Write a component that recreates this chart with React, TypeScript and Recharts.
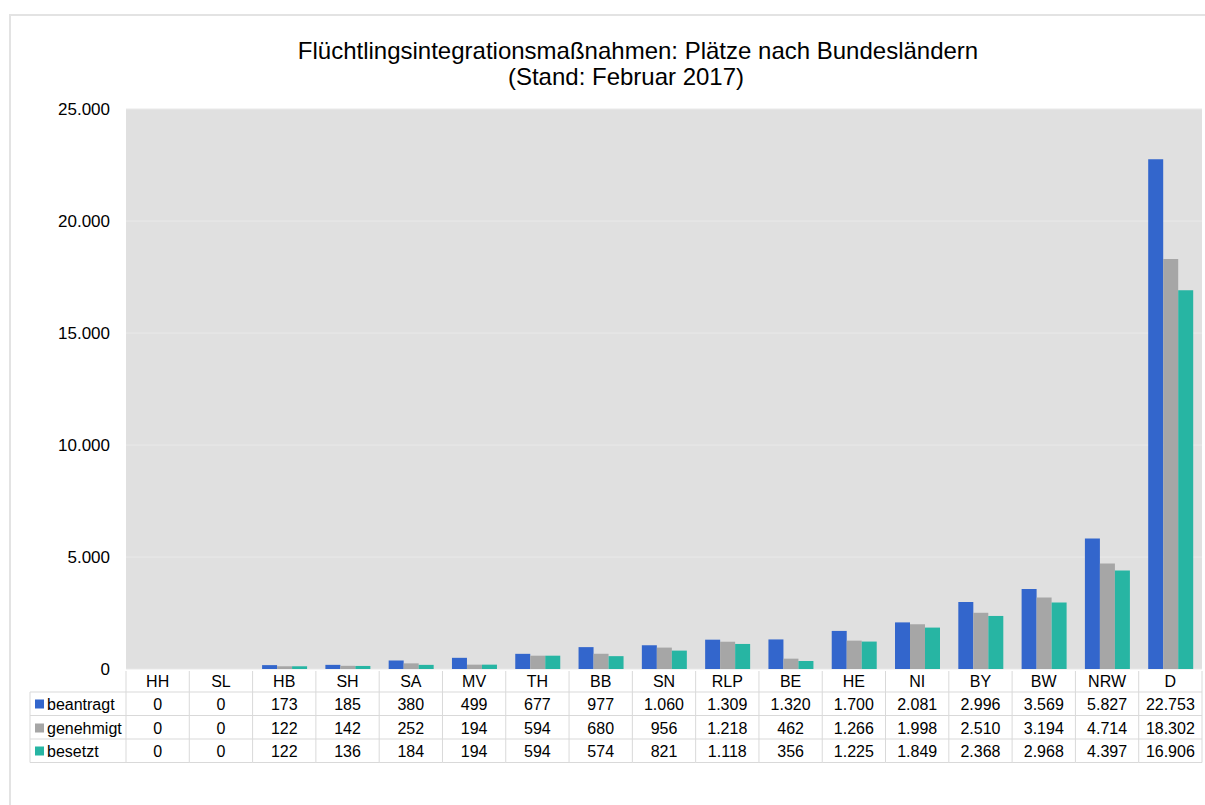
import { BarChart, Bar, XAxis, YAxis, CartesianGrid } from 'recharts';

// Bundesländer, sortiert wie in der Vorlage
const laender = ['HH', 'SL', 'HB', 'SH', 'SA', 'MV', 'TH', 'BB', 'SN', 'RLP', 'BE', 'HE', 'NI', 'BY', 'BW', 'NRW', 'D'];
const beantragt = [0, 0, 173, 185, 380, 499, 677, 977, 1060, 1309, 1320, 1700, 2081, 2996, 3569, 5827, 22753];
const genehmigt = [0, 0, 122, 142, 252, 194, 594, 680, 956, 1218, 462, 1266, 1998, 2510, 3194, 4714, 18302];
const besetzt = [0, 0, 122, 136, 184, 194, 594, 574, 821, 1118, 356, 1225, 1849, 2368, 2968, 4397, 16906];
const yTicks = [0, 5000, 10000, 15000, 20000, 25000];

const series = [
  { key: 'beantragt', values: beantragt, color: '#3366cc' },
  { key: 'genehmigt', values: genehmigt, color: '#a6a6a6' },
  { key: 'besetzt', values: besetzt, color: '#27b5a3' },
];

const data = laender.map((land, i) => ({
  land,
  beantragt: beantragt[i],
  genehmigt: genehmigt[i],
  besetzt: besetzt[i],
}));

const CHART_W = 1195;
const CHART_H = 762;
const Y_W = 118;
const PLOT_W = CHART_W - Y_W - 1;
const COL_W = PLOT_W / laender.length;
const LINE = '#d9d9d9';
const FONT = '"Liberation Sans", Arial, sans-serif';

const fmt = (v: number) => String(v).replace(/\B(?=(\d{3})+(?!\d))/g, '.');

// row centers and bottom lines, relative to the plot bottom
const rowCenters = [35, 59, 82];
const rowLines = [23, 46.5, 70, 93.5];

const TableTick = (props: any) => {
  const { x, y, payload } = props;
  const i = payload.index ?? props.index;
  const left = x - COL_W / 2;
  const right = x + COL_W / 2;
  const last = i === laender.length - 1;
  return (
    <g fontFamily={FONT}>
      <text x={x} y={y + 17.5} textAnchor="middle" fontSize={16} fill="#000">
        {payload.value}
      </text>
      {series.map((s, r) => (
        <text key={s.key} x={x} y={y + rowCenters[r] + 5.5} textAnchor="middle" fontSize={16} fill="#000">
          {fmt(s.values[i])}
        </text>
      ))}
      {rowLines.map((ly) => (
        <line key={ly} x1={left} x2={right} y1={y + ly} y2={y + ly} stroke={LINE} />
      ))}
      <line x1={left} x2={left} y1={y + 2} y2={y + 93.5} stroke={LINE} />
      {last && <line x1={right} x2={right} y1={y + 2} y2={y + 93.5} stroke={LINE} />}
      {i === 0 && (
        <g>
          {rowLines.map((ly) => (
            <line key={'l' + ly} x1={left - 96} x2={left} y1={y + ly} y2={y + ly} stroke={LINE} />
          ))}
          <line x1={left - 96} x2={left - 96} y1={y + 23} y2={y + 93.5} stroke={LINE} />
          {series.map((s, r) => (
            <g key={'lg' + s.key}>
              <rect x={left - 91} y={y + rowCenters[r] - 4.5} width={9} height={9} fill={s.color} />
              <text x={left - 79} y={y + rowCenters[r] + 5.5} fontSize={16} fill="#000">
                {s.key}
              </text>
            </g>
          ))}
        </g>
      )}
    </g>
  );
};

export default function App() {
  return (
    <div style={{ position: 'relative', width: 1197, height: 797, fontFamily: FONT }}>
      <style>{'html, body { overflow: hidden; } body { margin: 8px 0 0 8px; }'}</style>
      <div
        style={{
          position: 'absolute',
          left: 1,
          top: 6,
          width: 1196,
          height: 791,
          borderLeft: '2px solid #e3e3e3',
          borderTop: '2px solid #e3e3e3',
          boxSizing: 'border-box',
        }}
      />
      <div style={{ position: 'absolute', left: 230, top: 29, width: 800, textAlign: 'center', fontSize: 24, lineHeight: '28px', color: '#000' }}>
        Flüchtlingsintegrationsmaßnahmen: Plätze nach Bundesländern
      </div>
      <div style={{ position: 'absolute', left: 218, top: 55, width: 800, textAlign: 'center', fontSize: 24, lineHeight: '28px', color: '#000' }}>
        (Stand: Februar 2017)
      </div>
      <div style={{ position: 'absolute', left: 0, top: 0 }}>
        <BarChart
          width={CHART_W}
          height={CHART_H}
          data={data}
          margin={{ top: 101, right: 1, left: 0, bottom: 0 }}
          barCategoryGap="15%"
          barGap={0}
        >
          <CartesianGrid vertical={false} stroke="#e9e9e9" fill="#e0e0e0" fillOpacity={1} />
          <YAxis
            width={Y_W}
            domain={[0, 25000]}
            ticks={yTicks}
            axisLine={false}
            tickLine={false}
            tickSize={0}
            tickMargin={16}
            tickFormatter={fmt}
            tick={{ fontSize: 17, fill: '#000', fontFamily: FONT }}
          />
          <XAxis
            dataKey="land"
            height={CHART_H - 101 - 560}
            axisLine={false}
            tickLine={false}
            tickSize={0}
            tickMargin={0}
            interval={0}
            tick={(p: any) => <TableTick {...p} />}
          />
          {series.map((s) => (
            <Bar key={s.key} dataKey={s.key} fill={s.color} isAnimationActive={false} />
          ))}
        </BarChart>
      </div>
    </div>
  );
}
